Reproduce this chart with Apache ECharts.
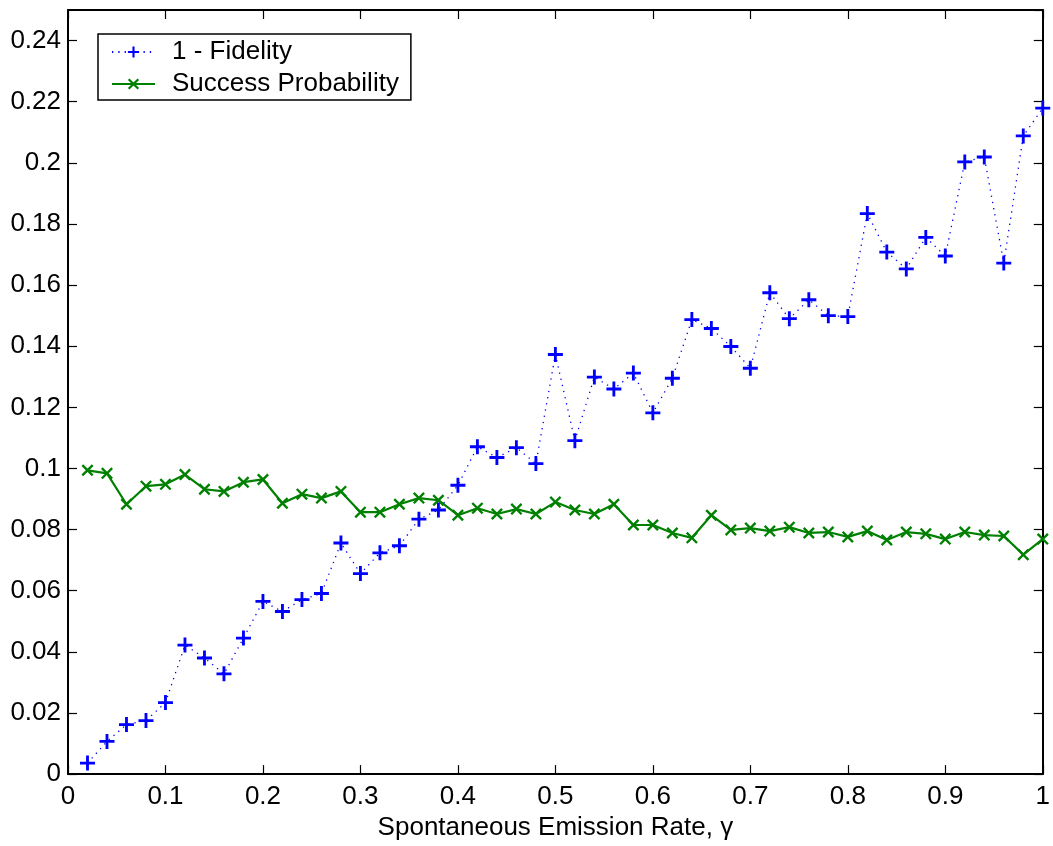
<!DOCTYPE html>
<html>
<head>
<meta charset="utf-8">
<script src="https://cdn.jsdelivr.net/npm/echarts@6/dist/echarts.min.js"></script>
<style>
html,body{margin:0;padding:0;background:#fff;}
#chart{width:1053px;height:846px;}
</style>
</head>
<body>
<div id="chart"></div>
<script>
const gammaValues = [0.02,0.04,0.06,0.08,0.10,0.12,0.14,0.16,0.18,0.20,0.22,0.24,0.26,0.28,0.30,0.32,0.34,0.36,0.38,0.40,0.42,0.44,0.46,0.48,0.50,0.52,0.54,0.56,0.58,0.60,0.62,0.64,0.66,0.68,0.70,0.72,0.74,0.76,0.78,0.80,0.82,0.84,0.86,0.88,0.90,0.92,0.94,0.96,0.98,1.00];
const oneMinusFidelity = [0.0036,0.0107,0.0162,0.0175,0.0234,0.0422,0.0380,0.0328,0.0445,0.0565,0.0532,0.0571,0.0591,0.0756,0.0656,0.0724,0.0747,0.0834,0.0864,0.0945,0.1071,0.1036,0.1068,0.1016,0.1373,0.1091,0.1299,0.1260,0.1312,0.1182,0.1295,0.1487,0.1458,0.1399,0.1328,0.1575,0.1490,0.1552,0.1500,0.1497,0.1834,0.1708,0.1653,0.1756,0.1695,0.2003,0.2019,0.1672,0.2088,0.2179];
const successProbability = [0.0994,0.0984,0.0883,0.0942,0.0948,0.0980,0.0932,0.0925,0.0955,0.0964,0.0886,0.0916,0.0903,0.0925,0.0857,0.0857,0.0883,0.0903,0.0896,0.0847,0.0870,0.0851,0.0867,0.0851,0.0890,0.0864,0.0851,0.0883,0.0815,0.0815,0.0789,0.0773,0.0847,0.0799,0.0805,0.0795,0.0808,0.0789,0.0792,0.0776,0.0795,0.0766,0.0792,0.0786,0.0769,0.0792,0.0782,0.0779,0.0718,0.0769];
const seriesNames = ['1 - Fidelity', 'Success Probability'];
const xAxisTitle = 'Spontaneous Emission Rate, \u03b3';

const FONT = 'Liberation Sans, Arial, Helvetica, sans-serif';
const plusPath = 'path://M0,4.05L10,4.05L10,5.95L0,5.95Z M4.05,0L5.95,0L5.95,10L4.05,10Z';
const crossPath = 'path://M0,1.4L1.4,0L10,8.6L8.6,10Z M8.6,0L10,1.4L1.4,10L0,8.6Z';

const chart = echarts.init(document.getElementById('chart'), null, {renderer: 'canvas'});
const pairs = (ys) => gammaValues.map((g, i) => [g, ys[i]]);

const axisLine = {show: true, onZero: false, lineStyle: {color: '#000', width: 2}};
const tick = {show: true, inside: true, length: 9, lineStyle: {color: '#000', width: 1.2}};

chart.setOption({
  animation: false,
  backgroundColor: '#fff',
  textStyle: {fontFamily: FONT},
  grid: {left: 68, right: 5, top: 10, bottom: 66, containLabel: false},
  legend: {
    left: 98, top: 34,
    orient: 'vertical',
    backgroundColor: '#fff',
    borderColor: '#000', borderWidth: 1.5,
    padding: [4, 12, 2, 13],
    itemWidth: 43, itemHeight: 14, itemGap: 4,
    textStyle: {fontSize: 26, color: '#000', fontFamily: FONT, lineHeight: 28, padding: [0, 0, 0, 12]},
    data: seriesNames
  },
  xAxis: [
    {type: 'value', min: 0, max: 1, interval: 0.1, position: 'bottom',
     name: xAxisTitle, nameLocation: 'middle', nameGap: 35,
     nameTextStyle: {fontSize: 26, color: '#000', fontFamily: FONT},
     axisLine: axisLine, axisTick: tick, splitLine: {show: false},
     axisLabel: {fontSize: 26, color: '#000', margin: 10, fontFamily: FONT}},
    {type: 'value', min: 0, max: 1, interval: 0.1, position: 'top',
     axisLine: axisLine, axisTick: tick, splitLine: {show: false},
     axisLabel: {show: false}}
  ],
  yAxis: [
    {type: 'value', min: 0, max: 0.25, interval: 0.02, position: 'left',
     axisLine: axisLine, axisTick: tick, splitLine: {show: false},
     axisLabel: {fontSize: 26, color: '#000', margin: 7, fontFamily: FONT,
       showMaxLabel: false,
       formatter: (v) => (v > 0.245 ? '' : String(Math.round(v * 100) / 100))}},
    {type: 'value', min: 0, max: 0.25, interval: 0.02, position: 'right',
     axisLine: axisLine, axisTick: tick, splitLine: {show: false},
     axisLabel: {show: false}}
  ],
  series: [
    {name: seriesNames[0], type: 'line', xAxisIndex: 0, yAxisIndex: 0,
     data: pairs(oneMinusFidelity),
     symbol: plusPath, symbolSize: 15, showAllSymbol: true,
     itemStyle: {color: '#0000ff'},
     lineStyle: {color: '#0000ff', width: 1.3, type: [1.3, 5]},
     z: 3},
    {name: seriesNames[1], type: 'line', xAxisIndex: 0, yAxisIndex: 0,
     data: pairs(successProbability),
     symbol: crossPath, symbolSize: 12, showAllSymbol: true,
     itemStyle: {color: '#008000'},
     lineStyle: {color: '#008000', width: 2.2},
     z: 2}
  ]
});
</script>
</body>
</html>
